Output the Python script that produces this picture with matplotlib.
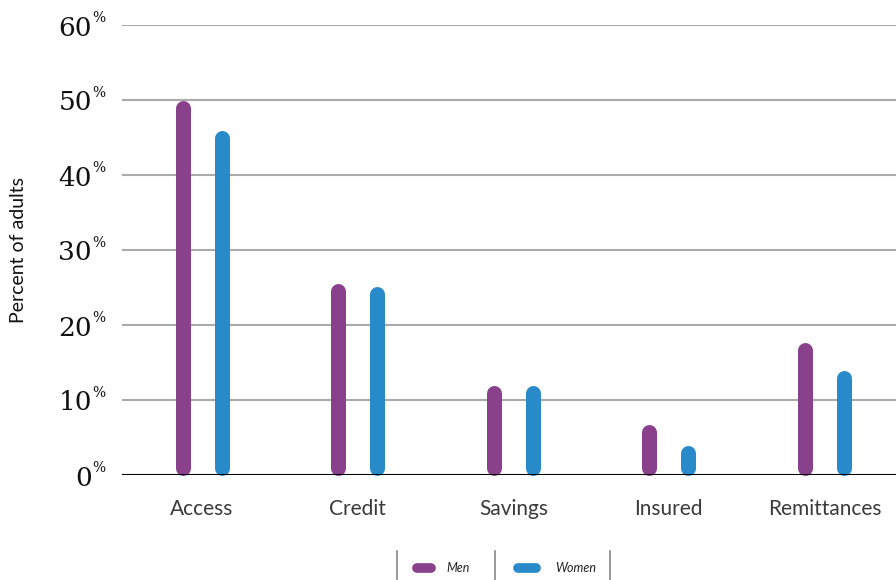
import matplotlib
matplotlib.use('Agg')
import matplotlib.pyplot as plt
import matplotlib.transforms as mtransforms
from matplotlib.lines import Line2D

# ── Data ──────────────────────────────────────────────────────────────────────
CATEGORIES = ['Access', 'Credit', 'Savings', 'Insured', 'Remittances']
MEN = [50, 25.5, 12, 6.8, 17.7]
WOMEN = [46, 25.2, 12, 4, 14]
Y_TICKS = [0, 10, 20, 30, 40, 50, 60]

PURPLE = '#89418C'
BLUE = '#288AC8'
GRID = '#AAAAAA'

# ── Figure ────────────────────────────────────────────────────────────────────
W, H = 896, 580
fig = plt.figure(figsize=(W / 100, H / 100), dpi=100)
ax = fig.add_axes([122 / W, 1 - 475 / H, 1 - 122 / W, 450 / H])

ax.set_xlim(-0.515, 4.46)
ax.set_ylim(0, 60)

bar_px = 15
r = (bar_px / 2) / 7.5   # cap radius in data units (7.5 px per %)
lw = bar_px * 72 / 100
for i, (m, w) in enumerate(zip(MEN, WOMEN)):
    for x, v, c in ((i - 0.125, m, PURPLE), (i + 0.125, w, BLUE)):
        ax.plot([x, x], [r, v - r], color=c, lw=lw, solid_capstyle='round',
                zorder=3, clip_on=False)

for t in Y_TICKS[1:]:
    ax.axhline(t, color=GRID, lw=1.5, zorder=1)
ax.axhline(0, color='black', lw=1.5, zorder=4)

for s in ax.spines.values():
    s.set_visible(False)
ax.set_yticks([])
ax.set_xticks(range(len(CATEGORIES)))
ax.set_xticklabels(CATEGORIES, fontfamily='Lato', fontsize=15,
                   color='#3a3a3a')
ax.tick_params(axis='x', length=0, pad=17)

# y tick labels: serif numbers with a raised percent sign
trans = mtransforms.blended_transform_factory(ax.transAxes, ax.transData)
for t in Y_TICKS:
    ax.annotate(f'{t}', xy=(0, t), xycoords=trans, xytext=(-30, -3),
                textcoords='offset pixels', ha='right', va='center',
                fontfamily='DejaVu Serif', fontsize=19, color='#111111')
    ax.annotate('%', xy=(0, t), xycoords=trans, xytext=(-30, 7),
                textcoords='offset pixels', ha='left', va='center',
                fontfamily='DejaVu Serif', fontsize=10, color='#111111')

fig.text(18 / W, 1 - 250 / H, 'Percent of adults', rotation=90,
         ha='center', va='center', fontfamily='Lato', fontsize=14,
         color='#111111')

# ── Legend ────────────────────────────────────────────────────────────────────
for sx in (397, 495, 610):
    fig.add_artist(Line2D([sx / W, sx / W], [0, 1 - 551 / H],
                          color='#888888', lw=1.2))
for x0, x1, c, lab, tx in ((417, 431, PURPLE, 'Men', 446),
                           (518, 536, BLUE, 'Women', 555)):
    fig.add_artist(Line2D([x0 / W, x1 / W], [1 - 568 / H] * 2, color=c,
                          lw=7, solid_capstyle='round'))
    fig.text(tx / W, 1 - 568 / H, lab, ha='left', va='center',
             fontfamily='Lato', fontstyle='italic', fontsize=9,
             color='#222222')

fig.savefig('out.png', dpi=100)
